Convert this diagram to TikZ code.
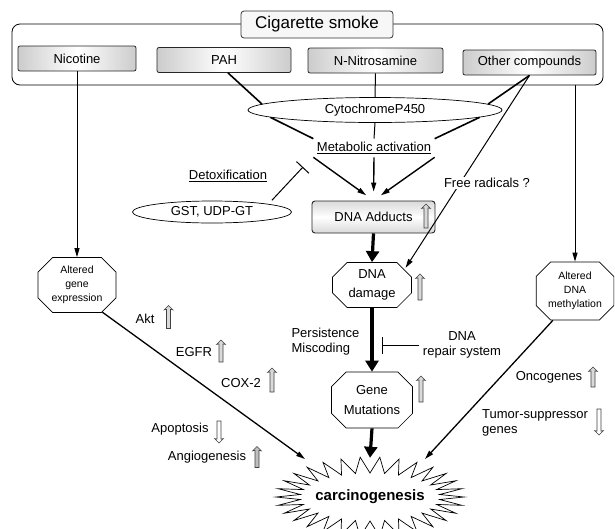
\documentclass[tikz,border=0pt]{standalone}
\usepackage{fontspec}
\setmainfont{Liberation Sans}
\usetikzlibrary{positioning, calc, arrows.meta, shapes.geometric, shapes.misc, shapes.arrows}

\tikzset{
  smokeframe/.style={draw, rounded corners=8pt, line width=0.8pt},
  source/.style={draw=black!80, rounded corners=3pt, line width=0.8pt, fill=gray!6, minimum width=152, minimum height=27, inner sep=1pt},
  agent/.style={draw=black!85, rounded corners=2pt, line width=0.8pt, left color=gray!40, right color=gray!40, middle color=white, minimum height=25, inner sep=1pt},
  enzyme/.style={ellipse, draw, fill=white, inner sep=0pt, line width=0.7pt},
  lesion/.style={chamfered rectangle, chamfered rectangle xsep=11pt, draw, fill=white, align=center, line width=0.7pt, inner sep=1pt},
  outcome/.style={ellipse, minimum width=186, minimum height=78, font=\fontsize{15}{17}\selectfont\bfseries},
  upmark/.style={single arrow, draw=black!75, fill=gray!30, shape border rotate=90, minimum height=24, single arrow head extend=2.4pt, single arrow head indent=0.5pt, inner sep=1.7pt, line width=0.6pt},
  downmark/.style={upmark, shape border rotate=270, fill=white},
  link/.style={line width=1.6pt},
  feed/.style={-{Triangle[length=9pt,width=5pt]}, line width=1pt},
  heavy/.style={-{Triangle[length=11pt,width=13pt]}, line width=3.2pt},
  inhibit/.style={-{Bar[width=17pt]}, line width=1pt}
}

\begin{document}
\begin{tikzpicture}[x=1pt, y=-1pt, font=\fontsize{13}{15}\selectfont]
\useasboundingbox (0,0) rectangle (615,528);

% cigarette smoke and its compounds
\node[smokeframe, minimum width=591, minimum height=61] (frame) at (307.5,54.5) {};
\node[source, font=\fontsize{17}{19}\selectfont] (smoke) at (317,24.5) {Cigarette smoke};
\node[agent, minimum width=118] (nicotine) at (77,58.5) {Nicotine};
\node[agent, minimum width=134] (pah) at (224,60) {PAH};
\node[agent, minimum width=135] (nitro) at (375.5,60.5) {N-Nitrosamine};
\node[agent, minimum width=133] (other) at (529.5,62.5) {Other compounds};

% metabolism
\node[enzyme, minimum width=254, minimum height=25] (cyp) at (375,110) {CytochromeP450};
\node (metab) at (374,148) {\underline{Metabolic activation}};
\node (detox) at (228,176) {\underline{Detoxification}};
\node[enzyme, minimum width=159, minimum height=22] (gst) at (212,212) {GST, UDP-GT};
\coordinate (block) at (303,167);

\node[draw=black!85, rounded corners=3pt, line width=0.9pt, top color=gray!30, bottom color=gray!30, middle color=white, minimum width=123, minimum height=32] (adducts) at (373.5,217) {DNA Adducts};
\node[upmark] (adductsup) at (426,217) {};

% lesions
\node[lesion, minimum width=79, minimum height=45, font=\fontsize{13}{19}\selectfont] (damage) at (372,285) {DNA\\damage};
\node[upmark, minimum height=26] (damageup) at (420,288) {};
\node[lesion, minimum width=81, minimum height=56, font=\fontsize{13}{20}\selectfont] (mutation) at (372,400) {Gene\\Mutations};
\node[upmark, minimum height=26] (mutationup) at (421,390) {};
\node[lesion, minimum width=78, minimum height=55, font=\fontsize{10.5}{14}\selectfont] (geneexp) at (77,285) {Altered\\gene\\expression};
\node[lesion, minimum width=76, minimum height=58, font=\fontsize{10.5}{14}\selectfont] (methyl) at (575,291) {Altered\\DNA\\methylation};

\node[anchor=west, align=left] (persist) at (288,342) {Persistence\\Miscoding};
\node[align=center] (repair) at (462,345) {DNA\\repair system};
\coordinate (blockrepair) at (382,342);

% outcome, spikes on an ellipse
\draw[fill=white, line width=0.7pt] (464,497)
  \foreach \k in {1,...,30} { -- ({370+70*cos((\k-0.5)*12)}, {497+24*sin((\k-0.5)*12)}) -- ({370+94*cos(\k*12)}, {497+40*sin(\k*12)}) } -- cycle;
\node[outcome] (carcino) at (370,497) {carcinogenesis};

% markers
\node (akt) at (145,319) {Akt};
\node[upmark, minimum height=23] (aktup) at (168.5,318) {};
\node (egfr) at (194,352) {EGFR};
\node[upmark, minimum height=22] (egfrup) at (221,352) {};
\node (cox) at (241,383) {COX-2};
\node[upmark, minimum height=24] (coxup) at (272,381) {};
\node (apop) at (180,429) {Apoptosis};
\node[downmark, minimum height=22] (apopdown) at (219,431) {};
\node (angio) at (207,457) {Angiogenesis};
\node[upmark, minimum height=21, fill=gray!50] (angioup) at (257,458) {};
\node (onco) at (549,377) {Oncogenes};
\node[upmark, minimum height=20] (oncoup) at (593,378) {};
\node[anchor=west, align=left, inner sep=0pt] (tumor) at (482,423) {Tumor-suppressor\\genes};
\node[downmark, minimum height=26] (tumordown) at (599,421) {};

% connectors
\draw[feed] (nicotine.south) -- (nicotine.south |- geneexp.north);
\draw[link] (pah.south) ++(4,0) -- (cyp.177);
\draw[link] (cyp.184) -- (metab.north west);
\draw[line width=1pt] (nitro.south) -- (cyp.north);
\draw[line width=1pt] (cyp.south) -- (metab.north);
\draw[link] (other.south) -- (cyp.3);
\draw[link] (cyp.-4) -- (metab.north east);
\draw[feed, line width=1.4pt, shorten >=9pt] (metab.south west) -- (adducts.north);
\draw[feed, line width=1.4pt, shorten >=9pt] (metab.south) -- (adducts.north);
\draw[feed, line width=1.4pt, shorten >=9pt] (metab.south east) -- (adducts.north);
\draw[inhibit, shorten <=5pt] (gst.north east) -- (block);
\draw[feed, shorten >=2pt] (other.south) -- (damage.north east);
\node[fill=white, inner sep=1pt] (radicals) at (487,183) {Free radicals ?};
\draw[feed] (methyl.north |- frame.south) -- (methyl.north);
\draw[heavy] (adducts.south) -- (damage.north);
\draw[heavy] (damage.south) -- (mutation.north);
\draw[inhibit] (repair.west) -- (blockrepair |- repair.west);
\draw[heavy] (mutation.south) -- (carcino.north);
\draw[feed, line width=1.3pt] (geneexp.313) -- ($(carcino.center)+(-65,-38)$);
\draw[feed, line width=1.3pt] (methyl.233) -- ($(carcino.center)+(55,-38)$);
\end{tikzpicture}
\end{document}
